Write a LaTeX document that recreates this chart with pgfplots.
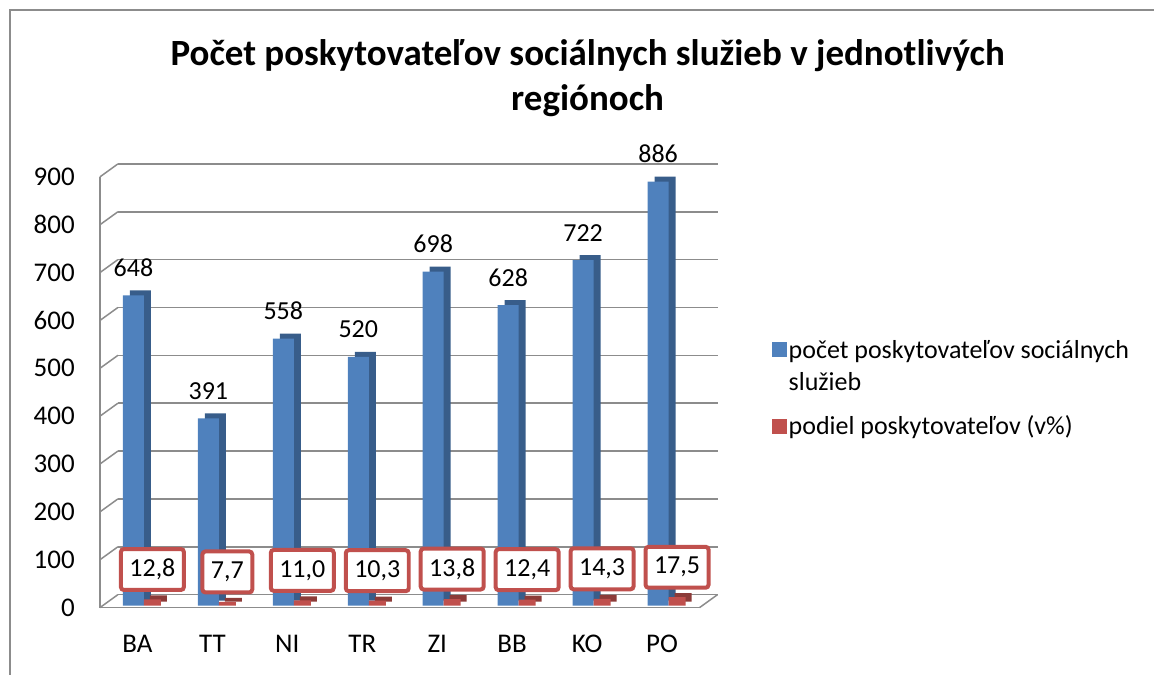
\documentclass[border=0pt]{standalone}
\usepackage{pgfplots}
\pgfplotsset{compat=1.18}
\usepackage{fontspec}
\setmainfont{Carlito}
\definecolor{bfront}{HTML}{4F81BD}
\definecolor{bside}{HTML}{385D8A}
\definecolor{rfront}{HTML}{C0504D}
\definecolor{rside}{HTML}{8C3B38}
\definecolor{gridg}{HTML}{8C8C8C}
\begin{document}
\begin{tikzpicture}
\path (0pt,0pt) rectangle (1155pt,675pt);
\draw[gridg, line width=1.5pt] (10pt,0pt) -- (10pt,665pt) -- (1155pt,665pt);
\node[font=\fontsize{37}{45}\selectfont\bfseries, align=center] at (588pt,597pt) {Počet poskytovateľov sociálnych služieb v jednotlivých\\regiónoch};
\begin{axis}[at={(100pt,67pt)}, anchor=south west, scale only axis, width=600pt, height=431pt,
 xmin=-0.5, xmax=7.5, ymin=0, ymax=900, clip=false,
 axis x line*=bottom, axis y line*=left,
 axis line style={-, draw=gridg, line width=1.5pt},
 major tick length=0pt,
 ytick={0,100,...,900}, xtick={0,...,7}, xticklabels={BA,TT,NI,TR,ZI,BB,KO,PO},
 ymajorgrids, major grid style={draw=gridg, line width=1.5pt, xshift=18pt, yshift=13pt},
 tick label style={font=\fontsize{27}{30}\selectfont},
 /pgf/number format/assume math mode=true,
 yticklabel style={anchor=east, inner sep=0pt, xshift=-25pt},
 xticklabel style={anchor=base, yshift=-45pt},
 ybar, bar width=21pt,
 legend style={at={(1.115,0.63)}, anchor=north west, draw=none, fill=none, font=\fontsize{26}{32}\selectfont, cells={anchor=west, align=left}, row sep=20pt},
]
\addplot[forget plot, fill=bside, draw=none, bar shift=-4pt, xshift=7pt, yshift=7pt] coordinates {(0,648) (1,391) (2,558) (3,520) (4,698) (5,628) (6,722) (7,886)};
\addplot[fill=bfront, draw=none, bar shift=-4pt, yshift=2pt,
 legend image code/.code={\fill[bfront] (0pt,7.5pt) rectangle (15pt,22.5pt);},
 nodes near coords, nodes near coords style={anchor=base, yshift=19pt, font=\fontsize{26}{30}\selectfont, /pgf/number format/.cd, fixed, precision=0}] coordinates {(0,648) (1,391) (2,558) (3,520) (4,698) (5,628) (6,722) (7,886)};
\addplot[forget plot, fill=rside, draw=none, bar width=17pt, bar shift=15pt, xshift=6pt, yshift=6pt] coordinates {(0,12.8) (1,7.7) (2,11.0) (3,10.3) (4,13.8) (5,12.4) (6,14.3) (7,17.5)};
\addplot[fill=rfront, draw=none, bar width=17pt, bar shift=15pt, yshift=2pt,
 legend image code/.code={\fill[rfront] (0pt,-9.5pt) rectangle (15pt,5.5pt);},
 nodes near coords, nodes near coords style={draw=rfront, line width=4pt, fill=white, rounded corners=3pt, inner xsep=8.5pt, minimum height=41pt, anchor=center, yshift=30pt, font=\fontsize{26}{30}\selectfont, /pgf/number format/.cd, use comma, fixed, fixed zerofill, precision=1}] coordinates {(0,12.8) (1,7.7) (2,11.0) (3,10.3) (4,13.8) (5,12.4) (6,14.3) (7,17.5)};
\legend{počet poskytovateľov sociálnych\\služieb, podiel poskytovateľov (v\%)}
\pgfplotsinvokeforeach{0,100,...,900}{\draw[gridg, line width=1.5pt] (axis cs:-0.5,#1) -- ++(18pt,13pt);}
\draw[gridg, line width=1.5pt] (axis cs:7.5,0) -- ++(18pt,13pt);
\end{axis}
\end{tikzpicture}
\end{document}
